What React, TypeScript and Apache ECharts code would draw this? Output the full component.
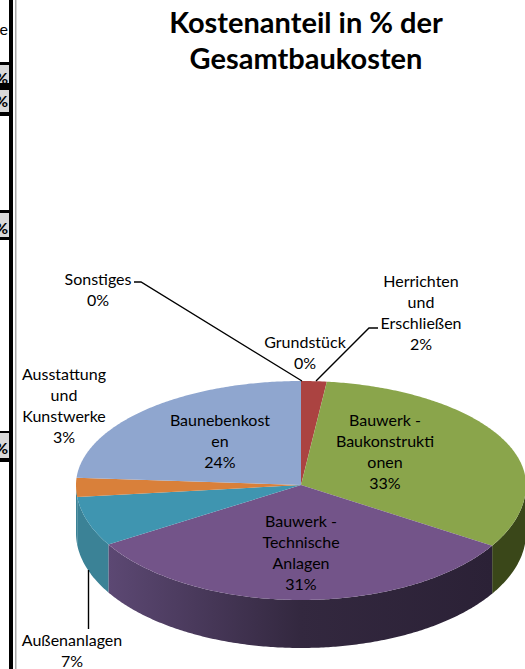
import React, { useEffect, useRef } from "react";
import * as echarts from "echarts";

const title = "Kostenanteil in % der\nGesamtbaukosten";
const categories = [
  "Grundstück",
  "Herrichten\nund\nErschließen",
  "Bauwerk -\nBaukonstrukti\nonen",
  "Bauwerk -\nTechnische\nAnlagen",
  "Außenanlagen",
  "Ausstattung\nund\nKunstwerke",
  "Baunebenkost\nen",
  "Sonstiges",
];
const values = [0, 1.7, 32.7, 31.4, 7.4, 3, 23.8, 0.0];
const topColors = ["#9a3f3d", "#ab4341", "#8aa54b", "#735489", "#3f95b0", "#d9803a", "#8fa6cf", "#8fa6cf"];
const sideColors = ["#6d2c2b", "#6d2c2b", "#3a4719", "#2c2238", "#3b8296", "#3b8296", "#66789a", "#66789a"];
const labelCenters: [number, number][] = [
  [305, 352], [421, 312], [385, 451], [301, 552], [72, 650], [64, 405], [220, 440], [98, 289],
];
const leaderLines: [number, number][][] = [
  [[134, 282], [141, 282], [302, 381]],
  [[378, 328], [369, 328], [316, 381]],
  [[88.5, 570], [88.5, 629]],
];
const sidebarBoxes: [number, number][] = [[65, 83], [90, 112], [213, 237], [433, 458]];
const sidebarPercentY = [77, 100, 227, 447];

const CX = 301, CY = 485, RX = 225, RY_BACK = 104, RY_FRONT = 115, DEPTH = 48, WARP = 0.038;

function pt(angle: number, dy = 0): [number, number] {
  const theta = angle + WARP * Math.sin(2 * angle);
  const c = Math.cos(theta);
  return [CX + RX * Math.sin(theta), CY + dy - c * (c > 0 ? RY_BACK : RY_FRONT)];
}

function spans() {
  const total = values.reduce((a, b) => a + b, 0);
  let acc = 0;
  return values.map((v) => {
    const a0 = (acc / total) * 2 * Math.PI;
    acc += v;
    return [a0, (acc / total) * 2 * Math.PI];
  });
}

function arc(a0: number, a1: number, dy = 0) {
  const out: [number, number][] = [];
  const n = Math.max(2, Math.ceil((a1 - a0) / 0.01));
  for (let i = 0; i <= n; i++) out.push(pt(a0 + ((a1 - a0) * i) / n, dy));
  return out;
}

export default function App() {
  const ref = useRef<HTMLDivElement>(null);
  useEffect(() => {
    document.body.style.margin = "0";
    const chart = echarts.init(ref.current!, undefined, { renderer: "svg" });
    const sp = spans();
    const data = values.map((v, i) => ({ value: [i, v], name: categories[i] }));
    const font = "Lato, Carlito, sans-serif";
    chart.setOption({
      animation: false,
      title: {
        text: title,
        left: 301,
        top: -2,
        textAlign: "center",
        textStyle: { fontFamily: font, fontSize: 29, fontWeight: "bold", color: "#000", lineHeight: 36 },
      },
      series: [
        {
          type: "custom",
          coordinateSystem: "none",
          silent: true,
          z: 1,
          data,
          renderItem: (_p: any, api: any) => {
            const i = api.value(0);
            const [a0, a1] = sp[i];
            const s = Math.max(a0, Math.PI / 2);
            const e = Math.min(a1, Math.PI * 1.5);
            if (e <= s) return { type: "group", children: [] };
            const pts = [...arc(s, e, 0), ...arc(s, e, DEPTH).reverse()];
            const isPurple = i === 3;
            return {
              type: "polygon",
              shape: { points: pts },
              style: {
                fill: isPurple
                  ? new echarts.graphic.LinearGradient(1, 0, 0, 0, [
                      { offset: 0, color: "#2b2136" },
                      { offset: 0.5, color: "#33283f" },
                      { offset: 1, color: "#5c4873" },
                    ])
                  : sideColors[i],
              },
            };
          },
        },
        {
          type: "custom",
          coordinateSystem: "none",
          silent: true,
          z: 2,
          data,
          renderItem: (_p: any, api: any) => {
            const i = api.value(0);
            const [a0, a1] = sp[i];
            if (a1 <= a0) return { type: "group", children: [] };
            return {
              type: "polygon",
              shape: { points: [[CX, CY], ...arc(a0, a1)] },
              style: { fill: topColors[i] },
            };
          },
        },
        {
          type: "custom",
          coordinateSystem: "none",
          silent: true,
          z: 4,
          data,
          renderItem: (_p: any, api: any) => {
            const i = api.value(0);
            const [x, y] = labelCenters[i];
            return {
              type: "text",
              x,
              y,
              style: {
                text: `${categories[i]}\n${Math.round(values[i])}%`,
                align: "center",
                verticalAlign: "middle",
                fontFamily: font,
                fontSize: 16,
                lineHeight: 21,
                fill: "#000",
              },
            };
          },
        },
      ],
      graphic: [
        ...leaderLines.map((points) => ({
          type: "polyline",
          z: 3,
          shape: { points },
          style: { stroke: "#000", lineWidth: 1.4, fill: "none" },
        })),
        { type: "rect", z: 5, shape: { x: 9, y: 0, width: 4, height: 669 }, style: { fill: "#000" } },
        { type: "rect", z: 5, shape: { x: 15, y: 0, width: 1.5, height: 669 }, style: { fill: "#aaaaaa" } },
        { type: "rect", z: 5, shape: { x: 0, y: 62, width: 9, height: 54 }, style: { fill: "#000" } },
        { type: "rect", z: 5, shape: { x: 0, y: 210, width: 9, height: 30 }, style: { fill: "#000" } },
        { type: "rect", z: 5, shape: { x: 0, y: 431, width: 9, height: 31 }, style: { fill: "#000" } },
        ...sidebarBoxes.map(([a, b]) => ({
          type: "rect",
          z: 6,
          shape: { x: 0, y: a, width: 9, height: b - a },
          style: { fill: "#d9d9d9" },
        })),
        ...sidebarPercentY.map((y) => ({
          type: "text",
          z: 7,
          x: 8,
          y,
          style: { text: "%", align: "right", verticalAlign: "middle", fontFamily: font, fontSize: 16, fontWeight: "bold", fill: "#000" },
        })),
        {
          type: "text",
          z: 7,
          x: 8,
          y: 28,
          style: { text: "e", align: "right", verticalAlign: "middle", fontFamily: font, fontSize: 16, fill: "#000" },
        },
      ],
    });
    return () => chart.dispose();
  }, []);
  return <div ref={ref} style={{ width: 525, height: 669 }} />;
}
